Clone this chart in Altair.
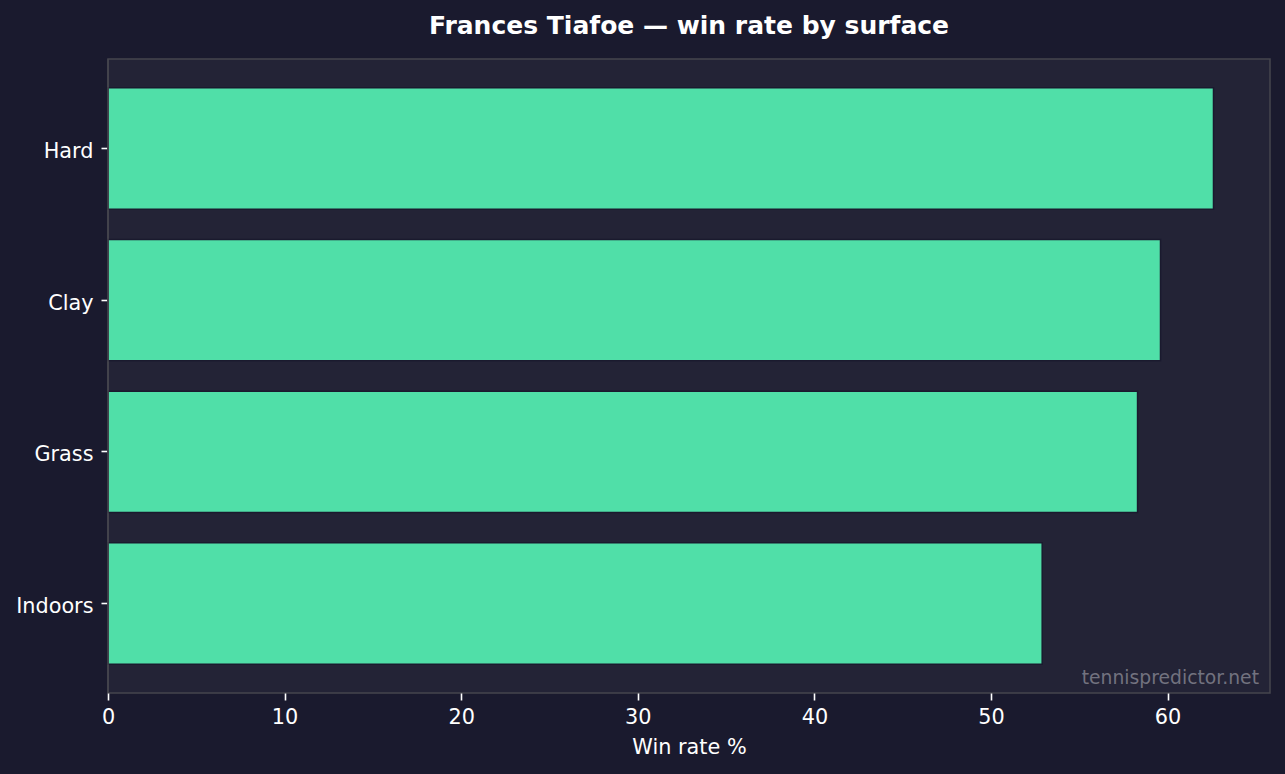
import altair as alt
import pandas as pd

surfaces = ["Hard", "Clay", "Grass", "Indoors"]
win_rates = [62.6, 59.6, 58.3, 52.9]
x_ticks = [0, 10, 20, 30, 40, 50, 60]
x_max = 65.8

df = pd.DataFrame({"surface": surfaces, "win": win_rates})

FONT = "DejaVu Sans"
BG = "#1a1a2e"
PANEL = "#232336"
GREEN = "#50dfa8"
BORDER = "#46464e"

bars = alt.Chart(df).mark_bar(
    color=GREEN, stroke=BG, strokeWidth=1.5, cornerRadius=0
).encode(
    y=alt.Y("surface:N", sort=surfaces,
            scale=alt.Scale(paddingInner=0.2, paddingOuter=0.19),
            axis=alt.Axis(title=None, labelFont=FONT, labelFontSize=20.8,
                          labelColor="white", tickColor="white", tickSize=7,
                          tickWidth=1.6, labelPadding=8, labelOffset=3.5,
                          domain=False, grid=False)),
    x=alt.X("win:Q",
            scale=alt.Scale(domain=[0, x_max], nice=False, zero=True),
            axis=alt.Axis(title="Win rate %", values=x_ticks, format="d",
                          labelFont=FONT, labelFontSize=20.8, labelFlush=False,
                          labelColor="white", tickColor="white", tickSize=7,
                          tickWidth=1.6, labelPadding=7, domain=False,
                          grid=False, titleFont=FONT, titleFontSize=20.8,
                          titleColor="white", titleFontWeight="normal",
                          titlePadding=11)),
)

left_spine = alt.Chart(pd.DataFrame({"s": [0]})).mark_rule(
    color=BORDER, strokeWidth=1.5
).encode(
    x=alt.value(0), y=alt.value(0), y2=alt.value(634)
)

wm = alt.Chart(pd.DataFrame({"t": ["tennispredictor.net"]})).mark_text(
    align="right", baseline="alphabetic", font=FONT, fontSize=18.75,
    color="#72727f"
).encode(
    text="t:N",
    x=alt.value(1151),
    y=alt.value(625),
)

chart = alt.layer(bars, left_spine, wm).properties(
    width=1162,
    height=634,
    background=BG,
    padding={"left": 108, "top": 59, "right": 15, "bottom": 81},
    autosize=alt.AutoSizeParams(type="none"),
    title=alt.TitleParams(
        "Frances Tiafoe — win rate by surface",
        font=FONT, fontSize=25, fontWeight="bold", color="white",
        anchor="middle", frame="group", offset=-1, baseline="alphabetic",
    ),
).configure_view(
    fill=PANEL, stroke=BORDER, strokeWidth=1.5
)

chart.save("out.html", embed_options={"renderer": "svg", "actions": False})
